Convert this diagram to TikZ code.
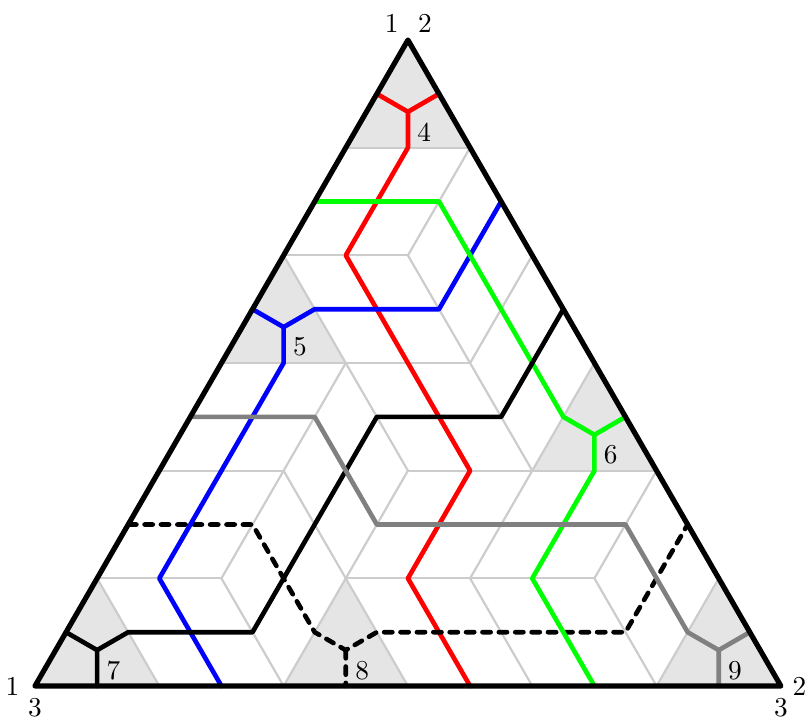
\documentclass[tikz,border=0pt]{standalone}
\usepackage{xcolor}
\usetikzlibrary{calc}
\definecolor{lightcell}{HTML}{E5E5E5}
\definecolor{gridgray}{HTML}{CCCCCC}
\tikzset{
    every picture/.style={line cap=round,line join=round},
    corner/.style={fill=lightcell,draw=none},
    grid/.style={draw=gridgray,line width=0.8pt},
    web/.style={line width=1.7pt},
    border/.style={draw=black,line width=1.9pt},
    cornerlabel/.style={inner sep=0pt,font=\normalsize},
    celllabel/.style={inner sep=0pt,font=\normalsize}
}

\begin{document}
\begin{tikzpicture}
  \useasboundingbox (-0.450,-0.425) rectangle (9.923,8.829);
  % lattice points
  \foreach \r in {0,...,12}
    \foreach \c in {0,...,24}
      \coordinate (p\c-\r) at (0.4*\c,0.69282*\r);
  % trivalent vertices
  \coordinate (v4) at ($(p12-11)!0.3333!(p12-10)$);
  \coordinate (v5) at ($(p8-7)!0.3333!(p8-6)$);
  \coordinate (v6) at ($(p18-5)!0.3333!(p18-4)$);
  \coordinate (v7) at ($(p2-1)!0.3333!(p2-0)$);
  \coordinate (v8) at ($(p10-1)!0.3333!(p10-0)$);
  \coordinate (v9) at ($(p22-1)!0.3333!(p22-0)$);

  % shaded corners
  \fill[corner] (p12-12) -- (p10-10) -- (p14-10) -- cycle;
  \fill[corner] (p8-8) -- (p6-6) -- (p10-6) -- cycle;
  \fill[corner] (p18-6) -- (p16-4) -- (p20-4) -- cycle;
  \fill[corner] (p2-2) -- (p0-0) -- (p4-0) -- cycle;
  \fill[corner] (p10-2) -- (p8-0) -- (p12-0) -- cycle;
  \fill[corner] (p22-2) -- (p20-0) -- (p24-0) -- cycle;

  % horizontal grid lines
  \draw[grid] (p10-10) -- (p14-10);
  \draw[grid] (p8-8) -- (p12-8);
  \draw[grid] (p6-6) -- (p14-6);
  \draw[grid] (p4-4) -- (p8-4);
  \draw[grid] (p12-4) -- (p20-4);
  \draw[grid] (p2-2) -- (p6-2);
  \draw[grid] (p10-2) -- (p18-2);
  % rising grid lines
  \draw[grid] (p14-10) -- (p12-8);
  \draw[grid] (p16-8) -- (p14-6);
  \draw[grid] (p10-6) -- (p6-2);
  \draw[grid] (p12-4) -- (p8-0);
  \draw[grid] (p18-6) -- (p14-2);
  \draw[grid] (p20-4) -- (p18-2);
  \draw[grid] (p22-2) -- (p20-0);
  % falling grid lines
  \draw[grid] (p8-8) -- (p10-6);
  \draw[grid] (p12-8) -- (p16-4);
  \draw[grid] (p10-6) -- (p12-4);
  \draw[grid] (p8-4) -- (p10-2);
  \draw[grid] (p10-2) -- (p12-0);
  \draw[grid] (p2-2) -- (p4-0);
  \draw[grid] (p6-2) -- (p8-0);
  \draw[grid] (p14-2) -- (p16-0);
  \draw[grid] (p18-2) -- (p20-0);

  % webs
  \draw[web,red] (p11-11) -- (v4) -- (p13-11);
  \draw[web,red] (v4) -- (p12-10) -- (p10-8) -- (p14-4) -- (p12-2) -- (p14-0);
  \draw[web,black,dashed] (p3-3) -- (p7-3) -- (p9-1) -- (v8) -- (p11-1) -- (p19-1) -- (p21-3);
  \draw[web,black,dashed] (v8) -- (p10-0);
  \draw[web,blue] (p7-7) -- (v5) -- (p9-7) -- (p13-7) -- (p15-9);
  \draw[web,blue] (v5) -- (p8-6) -- (p4-2) -- (p6-0);
  \draw[web,green] (p9-9) -- (p13-9) -- (p17-5) -- (v6) -- (p19-5);
  \draw[web,green] (v6) -- (p18-4) -- (p16-2) -- (p18-0);
  \draw[web,black] (p17-7) -- (p15-5) -- (p11-5) -- (p7-1) -- (p3-1) -- (v7) -- (p1-1);
  \draw[web,black] (v7) -- (p2-0);
  \draw[web,gray] (p5-5) -- (p9-5) -- (p11-3) -- (p19-3) -- (p21-1) -- (v9) -- (p23-1);
  \draw[web,gray] (v9) -- (p22-0);

  % outer triangle
  \draw[border] (p0-0) -- (p24-0) -- (p12-12) -- cycle;

  \node[celllabel] (n4) at ($(v4)+(0.21,-0.26)$) {4};
  \node[celllabel] (n5) at ($(v5)+(0.21,-0.25)$) {5};
  \node[celllabel] (n6) at ($(v6)+(0.21,-0.25)$) {6};
  \node[celllabel] (n7) at ($(v7)+(0.21,-0.26)$) {7};
  \node[celllabel] (n8) at ($(v8)+(0.21,-0.26)$) {8};
  \node[celllabel] (n9) at ($(v9)+(0.21,-0.26)$) {9};

  \node[cornerlabel] (top1) at ($(p12-12)+(-0.21,0.22)$) {1};
  \node[cornerlabel] (top2) at ($(p12-12)+(0.22,0.22)$) {2};
  \node[cornerlabel] (left1) at ($(p0-0)+(-0.29,0)$) {1};
  \node[cornerlabel] (left3) at ($(p0-0)+(0,-0.28)$) {3};
  \node[cornerlabel] (right2) at ($(p24-0)+(0.24,0)$) {2};
  \node[cornerlabel] (right3) at ($(p24-0)+(0,-0.28)$) {3};
\end{tikzpicture}
\end{document}
